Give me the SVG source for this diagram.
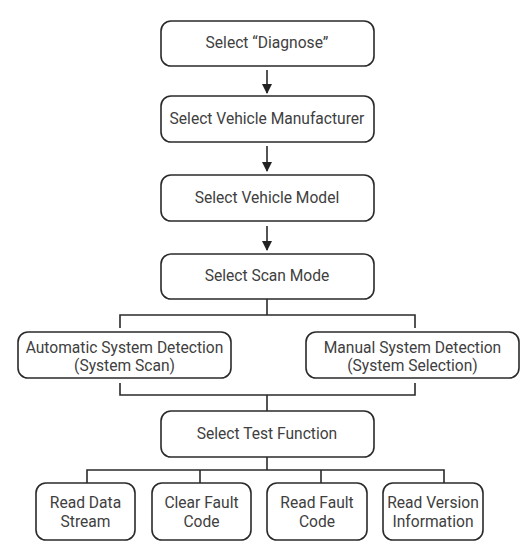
<svg xmlns="http://www.w3.org/2000/svg" width="523" height="546" viewBox="0 0 523 546">
<defs>
<marker id="ah" markerWidth="10" markerHeight="10" refX="9" refY="5" orient="auto" markerUnits="userSpaceOnUse">
<path d="M0,0 L10,5 L0,10 Z" fill="#222"/>
</marker>
<style>
.box{fill:#fff;stroke:#2a2a2a;stroke-width:1.6}
.t{font-family:Roboto,"Liberation Sans",sans-serif;font-size:15.6px;fill:#404040;text-anchor:middle}
.ln{fill:none;stroke:#2a2a2a;stroke-width:1.6}
</style>
</defs>
<rect width="523" height="546" fill="#fff"/>
<g id="connectors">
<line class="ln" x1="267" y1="70" x2="267" y2="93" marker-end="url(#ah)"/>
<line class="ln" x1="267" y1="146" x2="267" y2="171" marker-end="url(#ah)"/>
<line class="ln" x1="267" y1="226" x2="267" y2="250" marker-end="url(#ah)"/>
<polyline class="ln" points="267,299 267,315"/>
<polyline class="ln" points="120,328 120,315 415,315 415,328"/>
<polyline class="ln" points="120,383 120,395 415,395 415,383"/>
<polyline class="ln" points="267,395 267,411"/>
<polyline class="ln" points="267,457 267,470"/>
<polyline class="ln" points="87,483 87,470 444,470 444,483"/>
<line class="ln" x1="200" y1="470" x2="200" y2="483"/>
<line class="ln" x1="321" y1="470" x2="321" y2="483"/>
</g>
<g id="n1"><rect class="box" x="161" y="21" width="213" height="45" rx="10"/><text class="t" x="267" y="48">Select “Diagnose”</text></g>
<g id="n2"><rect class="box" x="161" y="96" width="213" height="46" rx="10"/><text class="t" x="267" y="124">Select Vehicle Manufacturer</text></g>
<g id="n3"><rect class="box" x="161" y="175" width="213" height="46" rx="10"/><text class="t" x="267" y="203">Select Vehicle Model</text></g>
<g id="n4"><rect class="box" x="161" y="254" width="213" height="45" rx="10"/><text class="t" x="267" y="281">Select Scan Mode</text></g>
<g id="n5"><rect class="box" x="18" y="332" width="213" height="46" rx="10"/><text class="t" x="124.5" y="353">Automatic System Detection</text><text class="t" x="124.5" y="371">(System Scan)</text></g>
<g id="n6"><rect class="box" x="306" y="332" width="213" height="46" rx="10"/><text class="t" x="412.5" y="353">Manual System Detection</text><text class="t" x="412.5" y="371">(System Selection)</text></g>
<g id="n7"><rect class="box" x="161" y="411" width="213" height="46" rx="10"/><text class="t" x="267" y="439">Select Test Function</text></g>
<g id="n8"><rect class="box" x="36" y="483" width="99" height="57" rx="10"/><text class="t" x="85.5" y="508">Read Data</text><text class="t" x="85.5" y="527">Stream</text></g>
<g id="n9"><rect class="box" x="152" y="483" width="99" height="57" rx="10"/><text class="t" x="201.5" y="508">Clear Fault</text><text class="t" x="201.5" y="527">Code</text></g>
<g id="n10"><rect class="box" x="267" y="483" width="100" height="57" rx="10"/><text class="t" x="317" y="508">Read Fault</text><text class="t" x="317" y="527">Code</text></g>
<g id="n11"><rect class="box" x="383" y="483" width="100" height="57" rx="10"/><text class="t" x="433" y="508">Read Version</text><text class="t" x="433" y="527">Information</text></g>
</svg>
